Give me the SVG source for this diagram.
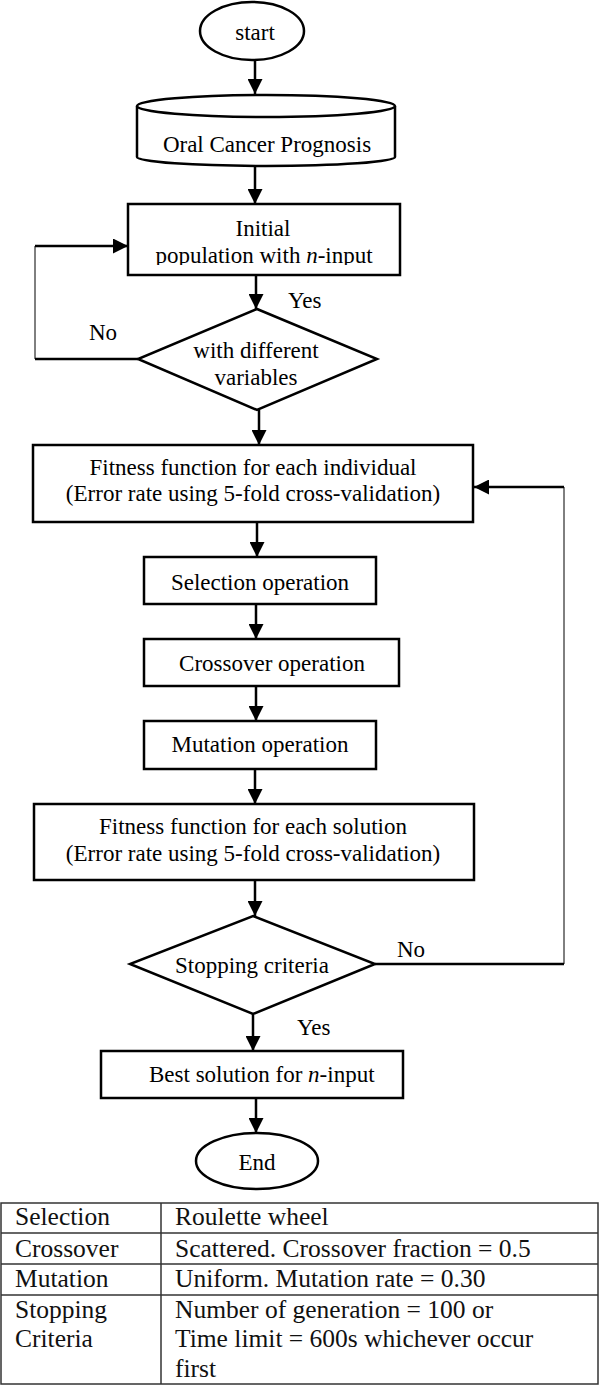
<svg xmlns="http://www.w3.org/2000/svg" width="600" height="1386" viewBox="0 0 600 1386">
<style>
.s{fill:#fff;stroke:#000;stroke-width:2.5}
.t{font-family:"Liberation Serif","Times New Roman",serif;font-size:23px;fill:#000;text-anchor:middle}
.l{font-family:"Liberation Serif","Times New Roman",serif;font-size:23px;fill:#000}
.tb{font-family:"Liberation Serif","Times New Roman",serif;font-size:25.5px;fill:#111}
.c{fill:none;stroke:#000;stroke-width:2.5}
.c1{fill:none;stroke:#000;stroke-width:1}
.g{fill:none;stroke:#333;stroke-width:1.5}
</style>
<defs>
<marker id="ah" markerUnits="userSpaceOnUse" markerWidth="15" markerHeight="15" refX="15" refY="7.5" orient="auto">
<path d="M0,0 L15,7.5 L0,15 z" fill="#000"/>
</marker>
<clipPath id="clipInit"><rect x="128" y="204" width="272" height="61"/></clipPath>
</defs>

<g id="connectors">
<line class="c" x1="255" y1="60" x2="255" y2="94" marker-end="url(#ah)"/>
<line class="c" x1="255" y1="166" x2="255" y2="204" marker-end="url(#ah)"/>
<line class="c" x1="256" y1="275" x2="256" y2="309" marker-end="url(#ah)"/>
<polyline class="c" points="138,359 35,359"/>
<line class="c1" x1="35" y1="359" x2="35" y2="246"/>
<line class="c" x1="35" y1="246" x2="128" y2="246" marker-end="url(#ah)"/>
<line class="c" x1="259" y1="410" x2="259" y2="445" marker-end="url(#ah)"/>
<line class="c" x1="257" y1="522" x2="257" y2="557" marker-end="url(#ah)"/>
<line class="c" x1="256" y1="604" x2="256" y2="639" marker-end="url(#ah)"/>
<line class="c" x1="256" y1="686" x2="256" y2="721" marker-end="url(#ah)"/>
<line class="c" x1="255" y1="769" x2="255" y2="804" marker-end="url(#ah)"/>
<line class="c" x1="255" y1="880" x2="255" y2="916" marker-end="url(#ah)"/>
<line class="c" x1="375" y1="964" x2="564" y2="964"/>
<line class="c1" x1="564" y1="964" x2="564" y2="487"/>
<line class="c" x1="564" y1="487" x2="474" y2="487" marker-end="url(#ah)"/>
<line class="c" x1="253" y1="1014" x2="253" y2="1051" marker-end="url(#ah)"/>
<line class="c" x1="256" y1="1098" x2="256" y2="1133" marker-end="url(#ah)"/>
<text class="l" x="288" y="308">Yes</text>
<text class="l" x="89" y="340">No</text>
<text class="l" x="397" y="957">No</text>
<text class="l" x="297" y="1035">Yes</text>
</g>

<g id="start">
<ellipse class="s" cx="252" cy="31" rx="52" ry="29"/>
<text class="t" x="255" y="40">start</text>
</g>

<g id="database">
<path class="s" d="M137,106 L137,157 A129,9 0 0 0 395,157 L395,106"/>
<ellipse class="s" cx="266" cy="106" rx="129" ry="11"/>
<text class="t" x="267" y="152">Oral Cancer Prognosis</text>
</g>

<g id="initial">
<rect class="s" x="128" y="204" width="272" height="71"/>
<g clip-path="url(#clipInit)">
<text class="t" x="263" y="236">Initial</text>
<text class="t" x="264" y="263">population with <tspan font-style="italic">n</tspan>-input</text>
</g>
</g>

<g id="check">
<polygon class="s" points="257,309 377,359 257,410 138,359"/>
<text class="t" x="256" y="358">with different</text>
<text class="t" x="256" y="385">variables</text>
</g>

<g id="fitness1">
<rect class="s" x="33" y="445" width="440" height="77"/>
<text class="t" x="253" y="475">Fitness function for each individual</text>
<text class="t" x="253" y="501">(Error rate using 5-fold cross-validation)</text>
</g>

<g id="selection">
<rect class="s" x="144" y="557" width="232" height="47"/>
<text class="t" x="260" y="590">Selection operation</text>
</g>

<g id="crossover">
<rect class="s" x="144" y="639" width="255" height="47"/>
<text class="t" x="272" y="671">Crossover operation</text>
</g>

<g id="mutation">
<rect class="s" x="144" y="721" width="232" height="48"/>
<text class="t" x="260" y="752">Mutation operation</text>
</g>

<g id="fitness2">
<rect class="s" x="34" y="804" width="440" height="76"/>
<text class="t" x="253" y="834">Fitness function for each solution</text>
<text class="t" x="253" y="861">(Error rate using 5-fold cross-validation)</text>
</g>

<g id="stopping">
<polygon class="s" points="253,916 375,964 253,1014 130,964"/>
<text class="t" x="252" y="973">Stopping criteria</text>
</g>

<g id="best">
<rect class="s" x="101" y="1051" width="302" height="47"/>
<text class="l" x="149" y="1082">Best solution for <tspan font-style="italic">n</tspan>-input</text>
</g>

<g id="end">
<ellipse class="s" cx="257" cy="1161" rx="61" ry="28"/>
<text class="t" x="257" y="1170">End</text>
</g>

<g id="table">
<rect class="g" x="1" y="1203" width="597" height="181"/>
<line class="g" x1="1" y1="1233" x2="598" y2="1233"/>
<line class="g" x1="1" y1="1264" x2="598" y2="1264"/>
<line class="g" x1="1" y1="1295" x2="598" y2="1295"/>
<line class="g" x1="161" y1="1203" x2="161" y2="1384"/>
<text class="tb" x="15" y="1225">Selection</text>
<text class="tb" x="175" y="1225">Roulette wheel</text>
<text class="tb" x="15" y="1257">Crossover</text>
<text class="tb" x="175" y="1257">Scattered. Crossover fraction = 0.5</text>
<text class="tb" x="15" y="1287">Mutation</text>
<text class="tb" x="175" y="1287">Uniform. Mutation rate = 0.30</text>
<text class="tb" x="15" y="1318">Stopping</text>
<text class="tb" x="15" y="1347">Criteria</text>
<text class="tb" x="175" y="1318">Number of generation = 100 or</text>
<text class="tb" x="175" y="1347">Time limit = 600s whichever occur</text>
<text class="tb" x="175" y="1377">first</text>
</g>
</svg>
